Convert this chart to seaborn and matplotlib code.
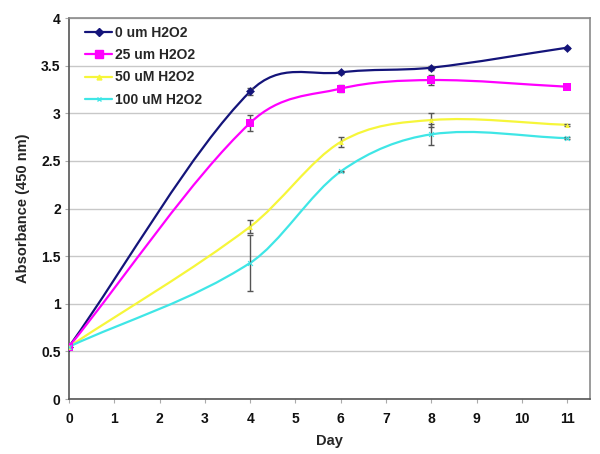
import numpy as np
import pandas as pd
import matplotlib
matplotlib.use("Agg")
import matplotlib.pyplot as plt
from matplotlib.path import Path
from matplotlib.patches import PathPatch
from matplotlib.lines import Line2D
import seaborn as sns

# values
days = [0, 4, 6, 8, 11]
series = ["0 um H2O2", "25 um H2O2", "50 uM H2O2", "100 uM H2O2"]
abs_0 = [0.55, 3.23, 3.43, 3.48, 3.69]
abs_25 = [0.55, 2.90, 3.26, 3.35, 3.28]
abs_50 = [0.55, 1.81, 2.70, 2.93, 2.88]
abs_100 = [0.55, 1.43, 2.39, 2.78, 2.74]
err_0 = [0, 0.04, 0.02, 0.02, 0.01]
err_25 = [0, 0.08, 0.04, 0.05, 0.01]
err_50 = [0, 0.07, 0.05, 0.07, 0.01]
err_100 = [0, 0.29, 0.01, 0.11, 0.01]

colors = ["#14147a", "#ff00ff", "#f6f63a", "#3fe6e6"]
markers = ["D", "s", "^", "x"]
msizes = [4.5, 6, 3.5, 3.5]

values = [abs_0, abs_25, abs_50, abs_100]
errors = [err_0, err_25, err_50, err_100]

df = pd.DataFrame({
    "Day": days * 4,
    "Absorbance": abs_0 + abs_25 + abs_50 + abs_100,
    "Series": [s for s in series for _ in days],
})

sns.set_theme(style="white")
plt.rcParams["font.family"] = ["Liberation Sans", "DejaVu Sans"]


def smooth_path(x, y):
    # excel-like smoothed line: bezier segments through the data points,
    # tangents weighted by the uneven day spacing
    pts = np.column_stack([x, y]).astype(float)
    n = len(pts)

    def tangent(i):
        if i == 0:
            return pts[1] - pts[0]
        if i == n - 1:
            return pts[-1] - pts[-2]
        return pts[i + 1] - pts[i - 1]

    verts = [pts[0]]
    codes = [Path.MOVETO]
    for i in range(n - 1):
        p1, p2 = pts[i], pts[i + 1]
        d = p2[0] - p1[0]
        t1 = tangent(i)
        t2 = tangent(i + 1)
        c1 = p1 + t1 * d / (3 * t1[0])
        c2 = p2 - t2 * d / (3 * t2[0])
        verts += [c1, c2, p2]
        codes += [Path.CURVE4] * 3
    return Path(verts, codes)


fig, ax = plt.subplots(figsize=(6, 4.54), dpi=100)
fig.subplots_adjust(left=0.115, right=0.983, top=0.96, bottom=0.121)

for k, s in enumerate(series):
    ax.add_patch(PathPatch(smooth_path(days, values[k]), facecolor="none",
                           edgecolor=colors[k], lw=1.6, zorder=3))
    ax.errorbar(days, values[k], yerr=errors[k], fmt="none", ecolor="#555555",
                elinewidth=1, capsize=2.5, capthick=1, zorder=4)
    sub = df[df["Series"] == s]
    sns.scatterplot(data=sub, x="Day", y="Absorbance", color=colors[k],
                    marker=markers[k], s=msizes[k] ** 2,
                    linewidth=0.8 if markers[k] == "x" else 0,
                    legend=False, ax=ax, zorder=5)

ax.set_xlim(0, 11.5)
ax.set_ylim(0, 4)
ax.set_xticks(range(12))
ax.set_yticks(np.arange(0, 4.01, 0.5))
ax.set_yticklabels(["0", "0.5", "1", "1.5", "2", "2.5", "3", "3.5", "4"])
ax.yaxis.grid(True, color="#c8c8c8", lw=1)
ax.xaxis.grid(False)
ax.set_axisbelow(True)
for side in ["left", "bottom"]:
    ax.spines[side].set_color("#555555")
    ax.spines[side].set_linewidth(1.2)
for side in ["top", "right"]:
    ax.spines[side].set_color("#8a8a8a")
    ax.spines[side].set_linewidth(1.2)
ax.tick_params(axis="both", labelsize=10, labelcolor="#111111", length=3,
               width=0.8, direction="out", pad=3, color="#aaaaaa",
               bottom=True, left=True)
ax.tick_params(axis="x", pad=6)
for lab in ax.get_xticklabels() + ax.get_yticklabels():
    lab.set_fontweight("bold")
ax.set_xlabel("Day", fontsize=10.5, fontweight="bold", labelpad=6)
ax.set_ylabel("Absorbance (450 nm)", fontsize=10.5, fontweight="bold", labelpad=8)

handles = [Line2D([0], [0], color=colors[k], marker=markers[k], lw=1.6,
                  markersize=msizes[k]) for k in range(4)]
leg = ax.legend(handles, series, loc="upper left", bbox_to_anchor=(0.03, 0.98),
                frameon=False, fontsize=10, handlelength=2.0, handletextpad=0.2,
                labelspacing=0.6, borderpad=0, borderaxespad=0)
for t in leg.get_texts():
    t.set_fontweight("bold")

fig.savefig("out.png", dpi=100)
